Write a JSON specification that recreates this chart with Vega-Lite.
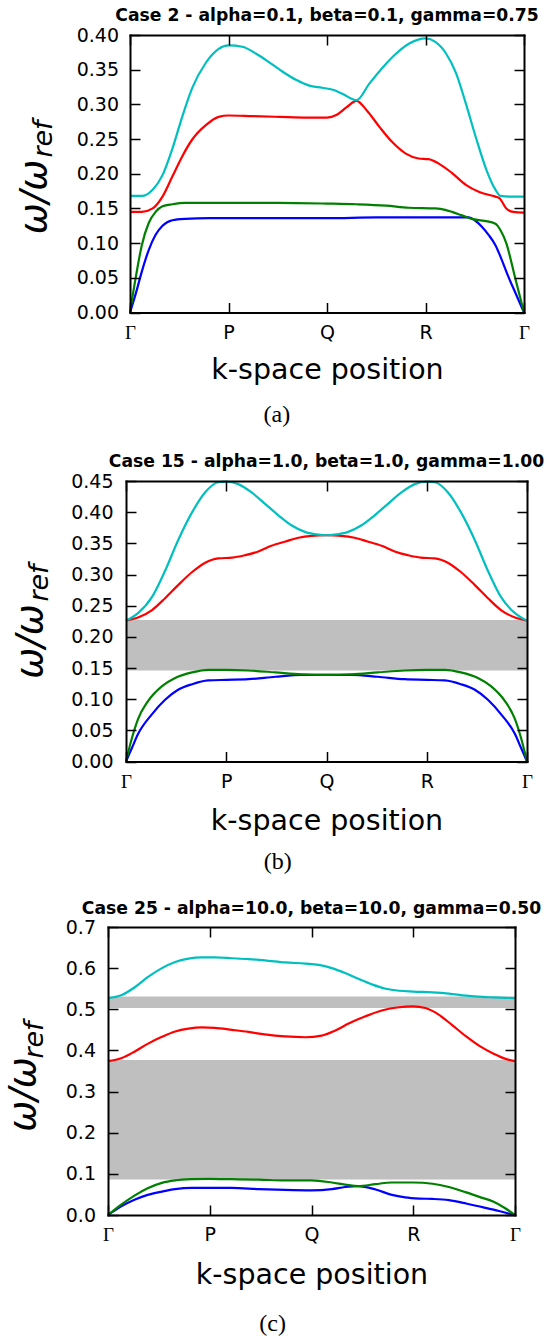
{
"$schema": "https://vega.github.io/schema/vega-lite/v6.json",
"background": "white",
"padding": {"left": 0, "top": 6, "right": 0, "bottom": 0},
"datasets": {
"a": [
{"k":0,"w":0,"b":"1"},{"k":0.06,"w":0.028,"b":"1"},{"k":0.12,"w":0.059,"b":"1"},{"k":0.19,"w":0.09,"b":"1"},{"k":0.26,"w":0.112,"b":"1"},{"k":0.33,"w":0.125,"b":"1"},{"k":0.43,"w":0.133,"b":"1"},{"k":0.56,"w":0.135,"b":"1"},{"k":0.8,"w":0.136,"b":"1"},{"k":1.0,"w":0.136,"b":"1"},{"k":1.5,"w":0.136,"b":"1"},{"k":2.0,"w":0.136,"b":"1"},{"k":2.5,"w":0.137,"b":"1"},{"k":3.0,"w":0.137,"b":"1"},{"k":3.44,"w":0.137,"b":"1"},{"k":3.5,"w":0.133,"b":"1"},{"k":3.57,"w":0.124,"b":"1"},{"k":3.64,"w":0.112,"b":"1"},{"k":3.71,"w":0.097,"b":"1"},{"k":3.76,"w":0.081,"b":"1"},{"k":3.84,"w":0.052,"b":"1"},{"k":3.92,"w":0.026,"b":"1"},{"k":4.0,"w":0,"b":"1"},
{"k":0,"w":0,"b":"2"},{"k":0.06,"w":0.052,"b":"2"},{"k":0.12,"w":0.097,"b":"2"},{"k":0.19,"w":0.129,"b":"2"},{"k":0.26,"w":0.145,"b":"2"},{"k":0.33,"w":0.153,"b":"2"},{"k":0.43,"w":0.156,"b":"2"},{"k":0.56,"w":0.158,"b":"2"},{"k":1.0,"w":0.158,"b":"2"},{"k":1.5,"w":0.158,"b":"2"},{"k":2.0,"w":0.157,"b":"2"},{"k":2.3,"w":0.156,"b":"2"},{"k":2.6,"w":0.154,"b":"2"},{"k":2.83,"w":0.151,"b":"2"},{"k":3.1,"w":0.15,"b":"2"},{"k":3.2,"w":0.148,"b":"2"},{"k":3.27,"w":0.145,"b":"2"},{"k":3.37,"w":0.14,"b":"2"},{"k":3.47,"w":0.135,"b":"2"},{"k":3.6,"w":0.132,"b":"2"},{"k":3.71,"w":0.128,"b":"2"},{"k":3.76,"w":0.119,"b":"2"},{"k":3.82,"w":0.1,"b":"2"},{"k":3.91,"w":0.05,"b":"2"},{"k":4.0,"w":0,"b":"2"},
{"k":0,"w":0.145,"b":"3"},{"k":0.12,"w":0.145,"b":"3"},{"k":0.23,"w":0.15,"b":"3"},{"k":0.33,"w":0.167,"b":"3"},{"k":0.43,"w":0.196,"b":"3"},{"k":0.53,"w":0.225,"b":"3"},{"k":0.63,"w":0.249,"b":"3"},{"k":0.77,"w":0.27,"b":"3"},{"k":0.9,"w":0.282,"b":"3"},{"k":1.0,"w":0.284,"b":"3"},{"k":1.25,"w":0.283,"b":"3"},{"k":1.52,"w":0.282,"b":"3"},{"k":1.8,"w":0.281,"b":"3"},{"k":2.0,"w":0.281,"b":"3"},{"k":2.1,"w":0.285,"b":"3"},{"k":2.2,"w":0.296,"b":"3"},{"k":2.3,"w":0.305,"b":"3"},{"k":2.4,"w":0.292,"b":"3"},{"k":2.53,"w":0.268,"b":"3"},{"k":2.66,"w":0.246,"b":"3"},{"k":2.8,"w":0.229,"b":"3"},{"k":2.93,"w":0.222,"b":"3"},{"k":3.03,"w":0.221,"b":"3"},{"k":3.13,"w":0.215,"b":"3"},{"k":3.27,"w":0.201,"b":"3"},{"k":3.41,"w":0.184,"b":"3"},{"k":3.54,"w":0.174,"b":"3"},{"k":3.71,"w":0.167,"b":"3"},{"k":3.75,"w":0.165,"b":"3"},{"k":3.82,"w":0.15,"b":"3"},{"k":3.89,"w":0.145,"b":"3"},{"k":4.0,"w":0.144,"b":"3"},
{"k":0,"w":0.168,"b":"4"},{"k":0.12,"w":0.168,"b":"4"},{"k":0.23,"w":0.177,"b":"4"},{"k":0.33,"w":0.198,"b":"4"},{"k":0.43,"w":0.236,"b":"4"},{"k":0.53,"w":0.282,"b":"4"},{"k":0.63,"w":0.323,"b":"4"},{"k":0.77,"w":0.36,"b":"4"},{"k":0.9,"w":0.38,"b":"4"},{"k":1.0,"w":0.385,"b":"4"},{"k":1.14,"w":0.383,"b":"4"},{"k":1.28,"w":0.373,"b":"4"},{"k":1.41,"w":0.361,"b":"4"},{"k":1.55,"w":0.347,"b":"4"},{"k":1.69,"w":0.335,"b":"4"},{"k":1.82,"w":0.327,"b":"4"},{"k":1.95,"w":0.324,"b":"4"},{"k":2.06,"w":0.321,"b":"4"},{"k":2.16,"w":0.315,"b":"4"},{"k":2.3,"w":0.306,"b":"4"},{"k":2.43,"w":0.33,"b":"4"},{"k":2.57,"w":0.354,"b":"4"},{"k":2.7,"w":0.373,"b":"4"},{"k":2.84,"w":0.388,"b":"4"},{"k":3.0,"w":0.395,"b":"4"},{"k":3.1,"w":0.39,"b":"4"},{"k":3.21,"w":0.373,"b":"4"},{"k":3.31,"w":0.345,"b":"4"},{"k":3.41,"w":0.301,"b":"4"},{"k":3.51,"w":0.253,"b":"4"},{"k":3.62,"w":0.205,"b":"4"},{"k":3.71,"w":0.177,"b":"4"},{"k":3.76,"w":0.168,"b":"4"},{"k":3.85,"w":0.167,"b":"4"},{"k":4.0,"w":0.167,"b":"4"}
],
"b": [
{"k":0,"w":0,"b":"1"},{"k":0.06,"w":0.022,"b":"1"},{"k":0.12,"w":0.044,"b":"1"},{"k":0.26,"w":0.076,"b":"1"},{"k":0.39,"w":0.099,"b":"1"},{"k":0.52,"w":0.115,"b":"1"},{"k":0.66,"w":0.124,"b":"1"},{"k":0.82,"w":0.13,"b":"1"},{"k":1.0,"w":0.131,"b":"1"},{"k":1.22,"w":0.132,"b":"1"},{"k":1.49,"w":0.136,"b":"1"},{"k":1.75,"w":0.139,"b":"1"},{"k":2.0,"w":0.139,"b":"1"},{"k":2.25,"w":0.139,"b":"1"},{"k":2.51,"w":0.136,"b":"1"},{"k":2.78,"w":0.132,"b":"1"},{"k":3.0,"w":0.131,"b":"1"},{"k":3.18,"w":0.13,"b":"1"},{"k":3.34,"w":0.124,"b":"1"},{"k":3.48,"w":0.115,"b":"1"},{"k":3.61,"w":0.099,"b":"1"},{"k":3.74,"w":0.076,"b":"1"},{"k":3.88,"w":0.044,"b":"1"},{"k":3.94,"w":0.022,"b":"1"},{"k":4.0,"w":0,"b":"1"},
{"k":0,"w":0,"b":"2"},{"k":0.06,"w":0.038,"b":"2"},{"k":0.12,"w":0.068,"b":"2"},{"k":0.22,"w":0.097,"b":"2"},{"k":0.36,"w":0.121,"b":"2"},{"k":0.49,"w":0.134,"b":"2"},{"k":0.66,"w":0.143,"b":"2"},{"k":0.82,"w":0.147,"b":"2"},{"k":1.0,"w":0.147,"b":"2"},{"k":1.22,"w":0.146,"b":"2"},{"k":1.49,"w":0.143,"b":"2"},{"k":1.75,"w":0.14,"b":"2"},{"k":2.0,"w":0.139,"b":"2"},{"k":2.25,"w":0.14,"b":"2"},{"k":2.51,"w":0.143,"b":"2"},{"k":2.78,"w":0.146,"b":"2"},{"k":3.0,"w":0.147,"b":"2"},{"k":3.18,"w":0.147,"b":"2"},{"k":3.34,"w":0.143,"b":"2"},{"k":3.51,"w":0.134,"b":"2"},{"k":3.64,"w":0.121,"b":"2"},{"k":3.78,"w":0.097,"b":"2"},{"k":3.88,"w":0.068,"b":"2"},{"k":3.94,"w":0.038,"b":"2"},{"k":4.0,"w":0,"b":"2"},
{"k":0,"w":0.226,"b":"3"},{"k":0.12,"w":0.231,"b":"3"},{"k":0.26,"w":0.243,"b":"3"},{"k":0.39,"w":0.262,"b":"3"},{"k":0.52,"w":0.283,"b":"3"},{"k":0.66,"w":0.304,"b":"3"},{"k":0.79,"w":0.319,"b":"3"},{"k":0.92,"w":0.326,"b":"3"},{"k":1.06,"w":0.327,"b":"3"},{"k":1.19,"w":0.331,"b":"3"},{"k":1.32,"w":0.337,"b":"3"},{"k":1.45,"w":0.346,"b":"3"},{"k":1.59,"w":0.353,"b":"3"},{"k":1.72,"w":0.359,"b":"3"},{"k":1.85,"w":0.362,"b":"3"},{"k":2.0,"w":0.363,"b":"3"},{"k":2.15,"w":0.362,"b":"3"},{"k":2.28,"w":0.359,"b":"3"},{"k":2.41,"w":0.353,"b":"3"},{"k":2.55,"w":0.346,"b":"3"},{"k":2.68,"w":0.337,"b":"3"},{"k":2.81,"w":0.331,"b":"3"},{"k":2.94,"w":0.327,"b":"3"},{"k":3.08,"w":0.326,"b":"3"},{"k":3.21,"w":0.319,"b":"3"},{"k":3.34,"w":0.304,"b":"3"},{"k":3.48,"w":0.283,"b":"3"},{"k":3.61,"w":0.262,"b":"3"},{"k":3.74,"w":0.243,"b":"3"},{"k":3.88,"w":0.231,"b":"3"},{"k":4.0,"w":0.226,"b":"3"},
{"k":0,"w":0.226,"b":"4"},{"k":0.12,"w":0.238,"b":"4"},{"k":0.26,"w":0.264,"b":"4"},{"k":0.39,"w":0.306,"b":"4"},{"k":0.52,"w":0.355,"b":"4"},{"k":0.66,"w":0.4,"b":"4"},{"k":0.79,"w":0.432,"b":"4"},{"k":0.92,"w":0.448,"b":"4"},{"k":1.0,"w":0.449,"b":"4"},{"k":1.12,"w":0.445,"b":"4"},{"k":1.25,"w":0.432,"b":"4"},{"k":1.39,"w":0.413,"b":"4"},{"k":1.52,"w":0.395,"b":"4"},{"k":1.65,"w":0.379,"b":"4"},{"k":1.79,"w":0.368,"b":"4"},{"k":1.92,"w":0.364,"b":"4"},{"k":2.0,"w":0.363,"b":"4"},{"k":2.08,"w":0.364,"b":"4"},{"k":2.21,"w":0.368,"b":"4"},{"k":2.35,"w":0.379,"b":"4"},{"k":2.48,"w":0.395,"b":"4"},{"k":2.61,"w":0.413,"b":"4"},{"k":2.75,"w":0.432,"b":"4"},{"k":2.88,"w":0.445,"b":"4"},{"k":3.0,"w":0.449,"b":"4"},{"k":3.08,"w":0.448,"b":"4"},{"k":3.21,"w":0.432,"b":"4"},{"k":3.34,"w":0.4,"b":"4"},{"k":3.48,"w":0.355,"b":"4"},{"k":3.61,"w":0.306,"b":"4"},{"k":3.74,"w":0.264,"b":"4"},{"k":3.88,"w":0.238,"b":"4"},{"k":4.0,"w":0.226,"b":"4"}
],
"c": [
{"k":0,"w":0,"b":"1"},{"k":0.13,"w":0.021,"b":"1"},{"k":0.26,"w":0.037,"b":"1"},{"k":0.39,"w":0.049,"b":"1"},{"k":0.53,"w":0.057,"b":"1"},{"k":0.66,"w":0.063,"b":"1"},{"k":0.82,"w":0.066,"b":"1"},{"k":1.0,"w":0.066,"b":"1"},{"k":1.22,"w":0.066,"b":"1"},{"k":1.48,"w":0.063,"b":"1"},{"k":1.74,"w":0.061,"b":"1"},{"k":2.0,"w":0.06,"b":"1"},{"k":2.2,"w":0.063,"b":"1"},{"k":2.33,"w":0.068,"b":"1"},{"k":2.46,"w":0.07,"b":"1"},{"k":2.63,"w":0.062,"b":"1"},{"k":2.79,"w":0.049,"b":"1"},{"k":2.92,"w":0.043,"b":"1"},{"k":3.06,"w":0.04,"b":"1"},{"k":3.19,"w":0.039,"b":"1"},{"k":3.35,"w":0.036,"b":"1"},{"k":3.52,"w":0.028,"b":"1"},{"k":3.68,"w":0.019,"b":"1"},{"k":3.79,"w":0.013,"b":"1"},{"k":3.9,"w":0.006,"b":"1"},{"k":4.0,"w":0,"b":"1"},
{"k":0,"w":0,"b":"2"},{"k":0.13,"w":0.025,"b":"2"},{"k":0.26,"w":0.047,"b":"2"},{"k":0.39,"w":0.065,"b":"2"},{"k":0.53,"w":0.078,"b":"2"},{"k":0.66,"w":0.084,"b":"2"},{"k":0.82,"w":0.087,"b":"2"},{"k":1.0,"w":0.088,"b":"2"},{"k":1.22,"w":0.087,"b":"2"},{"k":1.48,"w":0.086,"b":"2"},{"k":1.74,"w":0.084,"b":"2"},{"k":2.0,"w":0.084,"b":"2"},{"k":2.2,"w":0.079,"b":"2"},{"k":2.33,"w":0.074,"b":"2"},{"k":2.46,"w":0.07,"b":"2"},{"k":2.63,"w":0.075,"b":"2"},{"k":2.79,"w":0.079,"b":"2"},{"k":3.0,"w":0.079,"b":"2"},{"k":3.19,"w":0.076,"b":"2"},{"k":3.35,"w":0.068,"b":"2"},{"k":3.52,"w":0.055,"b":"2"},{"k":3.65,"w":0.044,"b":"2"},{"k":3.79,"w":0.032,"b":"2"},{"k":3.9,"w":0.017,"b":"2"},{"k":4.0,"w":0,"b":"2"},
{"k":0,"w":0.374,"b":"3"},{"k":0.13,"w":0.381,"b":"3"},{"k":0.26,"w":0.397,"b":"3"},{"k":0.39,"w":0.416,"b":"3"},{"k":0.53,"w":0.433,"b":"3"},{"k":0.66,"w":0.446,"b":"3"},{"k":0.79,"w":0.453,"b":"3"},{"k":0.92,"w":0.456,"b":"3"},{"k":1.05,"w":0.455,"b":"3"},{"k":1.22,"w":0.45,"b":"3"},{"k":1.38,"w":0.445,"b":"3"},{"k":1.54,"w":0.439,"b":"3"},{"k":1.74,"w":0.434,"b":"3"},{"k":1.94,"w":0.432,"b":"3"},{"k":2.1,"w":0.436,"b":"3"},{"k":2.23,"w":0.448,"b":"3"},{"k":2.37,"w":0.466,"b":"3"},{"k":2.53,"w":0.483,"b":"3"},{"k":2.69,"w":0.497,"b":"3"},{"k":2.86,"w":0.505,"b":"3"},{"k":3.0,"w":0.507,"b":"3"},{"k":3.12,"w":0.503,"b":"3"},{"k":3.25,"w":0.487,"b":"3"},{"k":3.38,"w":0.462,"b":"3"},{"k":3.52,"w":0.434,"b":"3"},{"k":3.65,"w":0.411,"b":"3"},{"k":3.79,"w":0.392,"b":"3"},{"k":3.9,"w":0.38,"b":"3"},{"k":4.0,"w":0.374,"b":"3"},
{"k":0,"w":0.527,"b":"4"},{"k":0.13,"w":0.534,"b":"4"},{"k":0.26,"w":0.553,"b":"4"},{"k":0.39,"w":0.578,"b":"4"},{"k":0.53,"w":0.6,"b":"4"},{"k":0.66,"w":0.615,"b":"4"},{"k":0.79,"w":0.623,"b":"4"},{"k":0.92,"w":0.626,"b":"4"},{"k":1.05,"w":0.626,"b":"4"},{"k":1.22,"w":0.624,"b":"4"},{"k":1.38,"w":0.622,"b":"4"},{"k":1.54,"w":0.619,"b":"4"},{"k":1.74,"w":0.614,"b":"4"},{"k":1.94,"w":0.611,"b":"4"},{"k":2.07,"w":0.608,"b":"4"},{"k":2.2,"w":0.6,"b":"4"},{"k":2.33,"w":0.588,"b":"4"},{"k":2.46,"w":0.574,"b":"4"},{"k":2.6,"w":0.56,"b":"4"},{"k":2.73,"w":0.55,"b":"4"},{"k":2.86,"w":0.545,"b":"4"},{"k":3.0,"w":0.543,"b":"4"},{"k":3.19,"w":0.541,"b":"4"},{"k":3.35,"w":0.538,"b":"4"},{"k":3.52,"w":0.533,"b":"4"},{"k":3.68,"w":0.53,"b":"4"},{"k":3.79,"w":0.529,"b":"4"},{"k":4.0,"w":0.527,"b":"4"}
],
"gaps_b": [{"lo":0.146,"hi":0.227}],
"gaps_c": [{"lo":0.086,"hi":0.377},{"lo":0.503,"hi":0.531}]
},
"spacing": 25,
"vconcat": [
{"spacing": 0, "hconcat": [
 {"width": 14.5, "height": 1, "data": {"values": []}, "mark": "rect"},
 {"title": {"text": "(a)", "orient": "bottom", "anchor": "middle", "frame": "bounds", "font": "Liberation Serif", "fontSize": 24, "fontWeight": "normal", "color": "black", "baseline": "alphabetic", "offset": 38},
  "vconcat": [
  {"width": 394, "height": 277.5,
   "title": {"text": "Case 2 - alpha=0.1, beta=0.1, gamma=0.75", "anchor": "middle", "frame": "group", "font": "DejaVu Sans", "fontSize": 17.2, "fontWeight": "bold", "color": "black", "baseline": "alphabetic", "offset": -12},
   "resolve": {"axis": {"x": "independent", "y": "independent"}},
   "layer": [
    {"data": {"name": "a"}, "mark": {"type": "line", "interpolate": "monotone", "strokeWidth": 2.2},
     "encoding": {
      "x": {"field": "k", "type": "quantitative", "scale": {"domain": [0, 4], "nice": false, "zero": false},
        "axis": {"orient": "bottom", "values": [0, 1, 2, 3, 4], "labelExpr": "datum.value == 1 ? 'P' : datum.value == 2 ? 'Q' : datum.value == 3 ? 'R' : 'Γ'", "labelFont": {"condition": {"test": "datum.value == 0 || datum.value == 4", "value": "Liberation Serif"}, "value": "DejaVu Sans"}, "labelFontSize": 19, "labelColor": "black", "labelBaseline": "alphabetic", "labelPadding": 36, "labelFlush": false, "labelOverlap": false, "tickSize": -10, "tickWidth": 1.5, "tickColor": "black", "domain": true, "domainColor": "black", "domainWidth": 2, "domainCap": "square", "grid": false, "zindex": 1, "minExtent": 0,
          "title": "k-space position", "titleFont": "DejaVu Sans", "titleFontSize": 28.5, "titleFontWeight": "normal", "titleColor": "black", "titleX": 197, "titleY": 66, "titleAlign": "center", "titleBaseline": "alphabetic"}},
      "y": {"field": "w", "type": "quantitative", "scale": {"domain": [0, 0.4], "nice": false},
        "axis": {"orient": "left", "values": [0, 0.05, 0.1, 0.15, 0.2, 0.25, 0.3, 0.35, 0.4], "format": ".2f", "labelFont": "DejaVu Sans", "labelFontSize": 19, "labelColor": "black", "labelBaseline": "middle", "labelPadding": 21.5, "labelFlush": false, "labelOverlap": false, "tickSize": -10, "tickWidth": 1.5, "tickColor": "black", "domain": true, "domainColor": "black", "domainWidth": 2, "domainCap": "square", "grid": false, "zindex": 1, "minExtent": 0,
          "title": "ω/ω", "titleFont": "DejaVu Sans", "titleFontStyle": "italic", "titleFontWeight": "normal", "titleFontSize": 37, "titleColor": "black", "titleAngle": 270, "titleAlign": "center", "titleBaseline": "alphabetic", "titleX": -85, "titleY": 161.5}},
      "color": {"field": "b", "type": "nominal", "scale": {"domain": ["1", "2", "3", "4"], "range": ["#0000ff", "#008000", "#ff0000", "#00bfbf"]}, "legend": null}
     }},
    {"data": {"name": "a"}, "mark": {"type": "line", "opacity": 0},
     "encoding": {
      "x": {"field": "k", "type": "quantitative", "scale": {"domain": [0, 4], "nice": false, "zero": false},
        "axis": {"orient": "top", "values": [0, 1, 2, 3, 4], "labels": false, "tickSize": -10, "tickWidth": 1.5, "tickColor": "black", "domain": true, "domainColor": "black", "domainWidth": 2, "domainCap": "square", "grid": false, "zindex": 1, "minExtent": 0, "title": null}},
      "y": {"field": "w", "type": "quantitative", "scale": {"domain": [0, 0.4], "nice": false},
        "axis": {"orient": "right", "values": [0, 0.05, 0.1, 0.15, 0.2, 0.25, 0.3, 0.35, 0.4], "labels": false, "tickSize": -10, "tickWidth": 1.5, "tickColor": "black", "domain": true, "domainColor": "black", "domainWidth": 2, "domainCap": "square", "grid": false, "zindex": 1, "minExtent": 0,
          "title": "ref", "titleFont": "DejaVu Sans", "titleFontStyle": "italic", "titleFontWeight": "normal", "titleFontSize": 27, "titleColor": "black", "titleAngle": 270, "titleAlign": "center", "titleBaseline": "alphabetic", "titleX": -472.5, "titleY": 103.5}},
      "detail": {"field": "b"}
     }}
   ]}
  ]}
]},
{"spacing": 0, "hconcat": [
 {"width": 11, "height": 1, "data": {"values": []}, "mark": "rect"},
 {"title": {"text": "(b)", "orient": "bottom", "anchor": "middle", "frame": "bounds", "font": "Liberation Serif", "fontSize": 24, "fontWeight": "normal", "color": "black", "baseline": "alphabetic", "offset": 34.5},
  "vconcat": [
  {"width": 401, "height": 280.5,
   "title": {"text": "Case 15 - alpha=1.0, beta=1.0, gamma=1.00", "anchor": "middle", "frame": "group", "font": "DejaVu Sans", "fontSize": 17.2, "fontWeight": "bold", "color": "black", "baseline": "alphabetic", "offset": -12},
   "resolve": {"axis": {"x": "independent", "y": "independent"}},
   "layer": [
    {"data": {"name": "gaps_b"}, "mark": {"type": "rect", "color": "#bfbfbf"},
     "encoding": {"y": {"field": "lo", "type": "quantitative", "scale": {"domain": [0, 0.45], "nice": false}, "axis": null}, "y2": {"field": "hi"}}},
    {"data": {"name": "b"}, "mark": {"type": "line", "interpolate": "monotone", "strokeWidth": 2.2},
     "encoding": {
      "x": {"field": "k", "type": "quantitative", "scale": {"domain": [0, 4], "nice": false, "zero": false},
        "axis": {"orient": "bottom", "values": [0, 1, 2, 3, 4], "labelExpr": "datum.value == 1 ? 'P' : datum.value == 2 ? 'Q' : datum.value == 3 ? 'R' : 'Γ'", "labelFont": {"condition": {"test": "datum.value == 0 || datum.value == 4", "value": "Liberation Serif"}, "value": "DejaVu Sans"}, "labelFontSize": 19, "labelColor": "black", "labelBaseline": "alphabetic", "labelPadding": 36, "labelFlush": false, "labelOverlap": false, "tickSize": -10, "tickWidth": 1.5, "tickColor": "black", "domain": true, "domainColor": "black", "domainWidth": 2, "domainCap": "square", "grid": false, "zindex": 1, "minExtent": 0,
          "title": "k-space position", "titleFont": "DejaVu Sans", "titleFontSize": 28.5, "titleFontWeight": "normal", "titleColor": "black", "titleX": 200.5, "titleY": 67.5, "titleAlign": "center", "titleBaseline": "alphabetic"}},
      "y": {"field": "w", "type": "quantitative", "scale": {"domain": [0, 0.45], "nice": false},
        "axis": {"orient": "left", "values": [0, 0.05, 0.1, 0.15, 0.2, 0.25, 0.3, 0.35, 0.4, 0.45], "format": ".2f", "labelFont": "DejaVu Sans", "labelFontSize": 19, "labelColor": "black", "labelBaseline": "middle", "labelPadding": 23, "labelFlush": false, "labelOverlap": false, "tickSize": -10, "tickWidth": 1.5, "tickColor": "black", "domain": true, "domainColor": "black", "domainWidth": 2, "domainCap": "square", "grid": false, "zindex": 1, "minExtent": 0,
          "title": "ω/ω", "titleFont": "DejaVu Sans", "titleFontStyle": "italic", "titleFontWeight": "normal", "titleFontSize": 37, "titleColor": "black", "titleAngle": 270, "titleAlign": "center", "titleBaseline": "alphabetic", "titleX": -84.5, "titleY": 160}},
      "color": {"field": "b", "type": "nominal", "scale": {"domain": ["1", "2", "3", "4"], "range": ["#0000ff", "#008000", "#ff0000", "#00bfbf"]}, "legend": null}
     }},
    {"data": {"name": "b"}, "mark": {"type": "line", "opacity": 0},
     "encoding": {
      "x": {"field": "k", "type": "quantitative", "scale": {"domain": [0, 4], "nice": false, "zero": false},
        "axis": {"orient": "top", "values": [0, 1, 2, 3, 4], "labels": false, "tickSize": -10, "tickWidth": 1.5, "tickColor": "black", "domain": true, "domainColor": "black", "domainWidth": 2, "domainCap": "square", "grid": false, "zindex": 1, "minExtent": 0, "title": null}},
      "y": {"field": "w", "type": "quantitative", "scale": {"domain": [0, 0.45], "nice": false},
        "axis": {"orient": "right", "values": [0, 0.05, 0.1, 0.15, 0.2, 0.25, 0.3, 0.35, 0.4, 0.45], "labels": false, "tickSize": -10, "tickWidth": 1.5, "tickColor": "black", "domain": true, "domainColor": "black", "domainWidth": 2, "domainCap": "square", "grid": false, "zindex": 1, "minExtent": 0,
          "title": "ref", "titleFont": "DejaVu Sans", "titleFontStyle": "italic", "titleFontWeight": "normal", "titleFontSize": 27, "titleColor": "black", "titleAngle": 270, "titleAlign": "center", "titleBaseline": "alphabetic", "titleX": -480, "titleY": 101.5}},
      "detail": {"field": "b"}
     }}
   ]}
  ]}
]},
{"spacing": 0, "hconcat": [
 {"width": 3.5, "height": 1, "data": {"values": []}, "mark": "rect"},
 {"title": {"text": "(c)", "orient": "bottom", "anchor": "middle", "frame": "bounds", "font": "Liberation Serif", "fontSize": 24, "fontWeight": "normal", "color": "black", "baseline": "alphabetic", "offset": 42},
  "vconcat": [
  {"width": 407, "height": 288,
   "title": {"text": "Case 25 - alpha=10.0, beta=10.0, gamma=0.50", "anchor": "middle", "frame": "group", "font": "DejaVu Sans", "fontSize": 17.2, "fontWeight": "bold", "color": "black", "baseline": "alphabetic", "offset": -13},
   "resolve": {"axis": {"x": "independent", "y": "independent"}},
   "layer": [
    {"data": {"name": "gaps_c"}, "mark": {"type": "rect", "color": "#bfbfbf"},
     "encoding": {"y": {"field": "lo", "type": "quantitative", "scale": {"domain": [0, 0.7], "nice": false}, "axis": null}, "y2": {"field": "hi"}}},
    {"data": {"name": "c"}, "mark": {"type": "line", "interpolate": "monotone", "strokeWidth": 2.2},
     "encoding": {
      "x": {"field": "k", "type": "quantitative", "scale": {"domain": [0, 4], "nice": false, "zero": false},
        "axis": {"orient": "bottom", "values": [0, 1, 2, 3, 4], "labelExpr": "datum.value == 1 ? 'P' : datum.value == 2 ? 'Q' : datum.value == 3 ? 'R' : 'Γ'", "labelFont": {"condition": {"test": "datum.value == 0 || datum.value == 4", "value": "Liberation Serif"}, "value": "DejaVu Sans"}, "labelFontSize": 19, "labelColor": "black", "labelBaseline": "alphabetic", "labelPadding": 35.5, "labelFlush": false, "labelOverlap": false, "tickSize": -10, "tickWidth": 1.5, "tickColor": "black", "domain": true, "domainColor": "black", "domainWidth": 2, "domainCap": "square", "grid": false, "zindex": 1, "minExtent": 0,
          "title": "k-space position", "titleFont": "DejaVu Sans", "titleFontSize": 28.5, "titleFontWeight": "normal", "titleColor": "black", "titleX": 203.5, "titleY": 68, "titleAlign": "center", "titleBaseline": "alphabetic"}},
      "y": {"field": "w", "type": "quantitative", "scale": {"domain": [0, 0.7], "nice": false},
        "axis": {"orient": "left", "values": [0, 0.1, 0.2, 0.3, 0.4, 0.5, 0.6, 0.7], "format": ".1f", "labelFont": "DejaVu Sans", "labelFontSize": 19, "labelColor": "black", "labelBaseline": "middle", "labelPadding": 22.5, "labelFlush": false, "labelOverlap": false, "tickSize": -10, "tickWidth": 1.5, "tickColor": "black", "domain": true, "domainColor": "black", "domainWidth": 2, "domainCap": "square", "grid": false, "zindex": 1, "minExtent": 0,
          "title": "ω/ω", "titleFont": "DejaVu Sans", "titleFontStyle": "italic", "titleFontWeight": "normal", "titleFontSize": 37, "titleColor": "black", "titleAngle": 270, "titleAlign": "center", "titleBaseline": "alphabetic", "titleX": -74, "titleY": 167}},
      "color": {"field": "b", "type": "nominal", "scale": {"domain": ["1", "2", "3", "4"], "range": ["#0000ff", "#008000", "#ff0000", "#00bfbf"]}, "legend": null}
     }},
    {"data": {"name": "c"}, "mark": {"type": "line", "opacity": 0},
     "encoding": {
      "x": {"field": "k", "type": "quantitative", "scale": {"domain": [0, 4], "nice": false, "zero": false},
        "axis": {"orient": "top", "values": [0, 1, 2, 3, 4], "labels": false, "tickSize": -10, "tickWidth": 1.5, "tickColor": "black", "domain": true, "domainColor": "black", "domainWidth": 2, "domainCap": "square", "grid": false, "zindex": 1, "minExtent": 0, "title": null}},
      "y": {"field": "w", "type": "quantitative", "scale": {"domain": [0, 0.7], "nice": false},
        "axis": {"orient": "right", "values": [0, 0.1, 0.2, 0.3, 0.4, 0.5, 0.6, 0.7], "labels": false, "tickSize": -10, "tickWidth": 1.5, "tickColor": "black", "domain": true, "domainColor": "black", "domainWidth": 2, "domainCap": "square", "grid": false, "zindex": 1, "minExtent": 0,
          "title": "ref", "titleFont": "DejaVu Sans", "titleFontStyle": "italic", "titleFontWeight": "normal", "titleFontSize": 27, "titleColor": "black", "titleAngle": 270, "titleAlign": "center", "titleBaseline": "alphabetic", "titleX": -473, "titleY": 112.5}},
      "detail": {"field": "b"}
     }}
   ]}
  ]}
]}
],
"config": {"view": {"stroke": null}}
}
